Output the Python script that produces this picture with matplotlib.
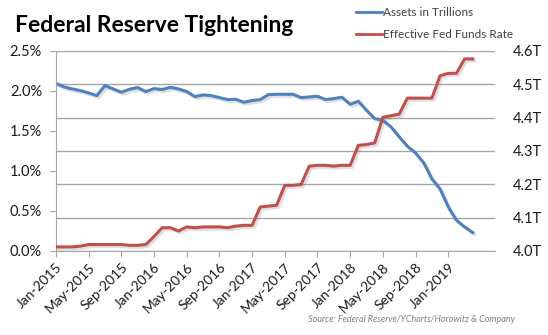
import numpy as np
import matplotlib
matplotlib.use('Agg')
import matplotlib.pyplot as plt
import matplotlib.patheffects as pe
from matplotlib.ticker import FuncFormatter, MultipleLocator

plt.rcParams['font.family'] = ['Lato', 'DejaVu Sans']

# monthly points, Jan-2015 .. Apr-2019
months = ['Jan-2015', 'Feb-2015', 'Mar-2015', 'Apr-2015', 'May-2015', 'Jun-2015',
          'Jul-2015', 'Aug-2015', 'Sep-2015', 'Oct-2015', 'Nov-2015', 'Dec-2015',
          'Jan-2016', 'Feb-2016', 'Mar-2016', 'Apr-2016', 'May-2016', 'Jun-2016',
          'Jul-2016', 'Aug-2016', 'Sep-2016', 'Oct-2016', 'Nov-2016', 'Dec-2016',
          'Jan-2017', 'Feb-2017', 'Mar-2017', 'Apr-2017', 'May-2017', 'Jun-2017',
          'Jul-2017', 'Aug-2017', 'Sep-2017', 'Oct-2017', 'Nov-2017', 'Dec-2017',
          'Jan-2018', 'Feb-2018', 'Mar-2018', 'Apr-2018', 'May-2018', 'Jun-2018',
          'Jul-2018', 'Aug-2018', 'Sep-2018', 'Oct-2018', 'Nov-2018', 'Dec-2018',
          'Jan-2019', 'Feb-2019', 'Mar-2019', 'Apr-2019']

# Fed balance sheet, trillions
assets = [4.503, 4.492, 4.486, 4.481, 4.474, 4.466, 4.496, 4.486, 4.476, 4.485,
          4.490, 4.478, 4.487, 4.484, 4.491, 4.486, 4.478, 4.463, 4.468, 4.466,
          4.460, 4.454, 4.455, 4.446, 4.451, 4.454, 4.469, 4.470, 4.470, 4.470,
          4.460, 4.462, 4.464, 4.454, 4.457, 4.461, 4.440, 4.449, 4.422, 4.397,
          4.392, 4.372, 4.342, 4.314, 4.294, 4.264, 4.216, 4.186, 4.132, 4.092,
          4.072, 4.055]

# effective fed funds rate, %
fed_funds = [0.05, 0.05, 0.05, 0.06, 0.08, 0.08, 0.08, 0.08, 0.08, 0.07,
             0.07, 0.08, 0.18, 0.29, 0.29, 0.25, 0.30, 0.29, 0.30, 0.30,
             0.30, 0.29, 0.31, 0.32, 0.32, 0.55, 0.56, 0.57, 0.82, 0.82,
             0.83, 1.06, 1.07, 1.07, 1.06, 1.07, 1.07, 1.32, 1.33, 1.35,
             1.67, 1.69, 1.71, 1.91, 1.91, 1.91, 1.91, 2.19, 2.22, 2.22,
             2.40, 2.40]

x = np.arange(len(months))
blue = '#4f81bd'
red = '#c0504d'
shadow = [pe.SimpleLineShadow(offset=(1.5, -1.5), alpha=0.25, shadow_color='gray'), pe.Normal()]

fig = plt.figure(figsize=(5.48, 3.35), dpi=100)
ax = fig.add_axes([0.102, 0.251, 0.801, 0.597])
ax2 = ax.twinx()
ax.set_zorder(ax2.get_zorder() + 1)
ax.patch.set_visible(False)

ax.plot(x, fed_funds, color=red, lw=2.2, path_effects=shadow, zorder=3)
ax2.plot(x, assets, color=blue, lw=2.2, path_effects=shadow, zorder=3)

ax.set_ylim(0, 2.5)
ax2.set_ylim(4.0, 4.6)
ax.set_xlim(0, 53.7)
ax.yaxis.set_major_locator(MultipleLocator(0.5))
ax2.yaxis.set_major_locator(MultipleLocator(0.1))
ax.yaxis.set_major_formatter(FuncFormatter(lambda v, p: f'{v:.1f}%'))
ax2.yaxis.set_major_formatter(FuncFormatter(lambda v, p: f'{v:.1f}T'))

ax.set_xticks(x[::4])
ax.set_xticklabels(months[::4], rotation=45, ha='right', rotation_mode='anchor')

# gridlines follow the right-hand axis
ax2.grid(axis='y', color='#a6a6a6', lw=1)
ax2.set_axisbelow(True)
for s in ['top', 'right']:
    ax.spines[s].set_visible(False)
for s in ['top', 'right', 'left', 'bottom']:
    ax2.spines[s].set_visible(False)
ax.spines['left'].set_color('#a6a6a6')
ax.spines['bottom'].set_color('#a6a6a6')
ax.tick_params(axis='y', colors='#a6a6a6', labelcolor='#1a1a1a', labelsize=10.5, length=4, pad=6)
ax.tick_params(axis='x', colors='#a6a6a6', labelcolor='#1a1a1a', labelsize=10, length=4, pad=3)
ax2.tick_params(axis='y', length=0, labelcolor='#1a1a1a', labelsize=10.5, pad=13)

fig.text(0.027, 0.905, 'Federal Reserve Tightening', fontsize=16.5, fontweight='bold', color='black')

lh = [plt.Line2D([], [], color=blue, lw=2), plt.Line2D([], [], color=red, lw=2)]
fig.legend(lh, ['Assets in Trillions', 'Effective Fed Funds Rate'], loc='upper left',
           bbox_to_anchor=(0.63, 1.01), frameon=False, fontsize=8.5, handlelength=2.2,
           handletextpad=0.1, labelspacing=0.9, labelcolor='#404040')

fig.text(0.94, 0.04, 'Source: Federal Reserve/YCharts/Horowitz & Company',
         fontsize=6.5, style='italic', color='#808080', ha='right')

fig.savefig('out.png', dpi=100)
